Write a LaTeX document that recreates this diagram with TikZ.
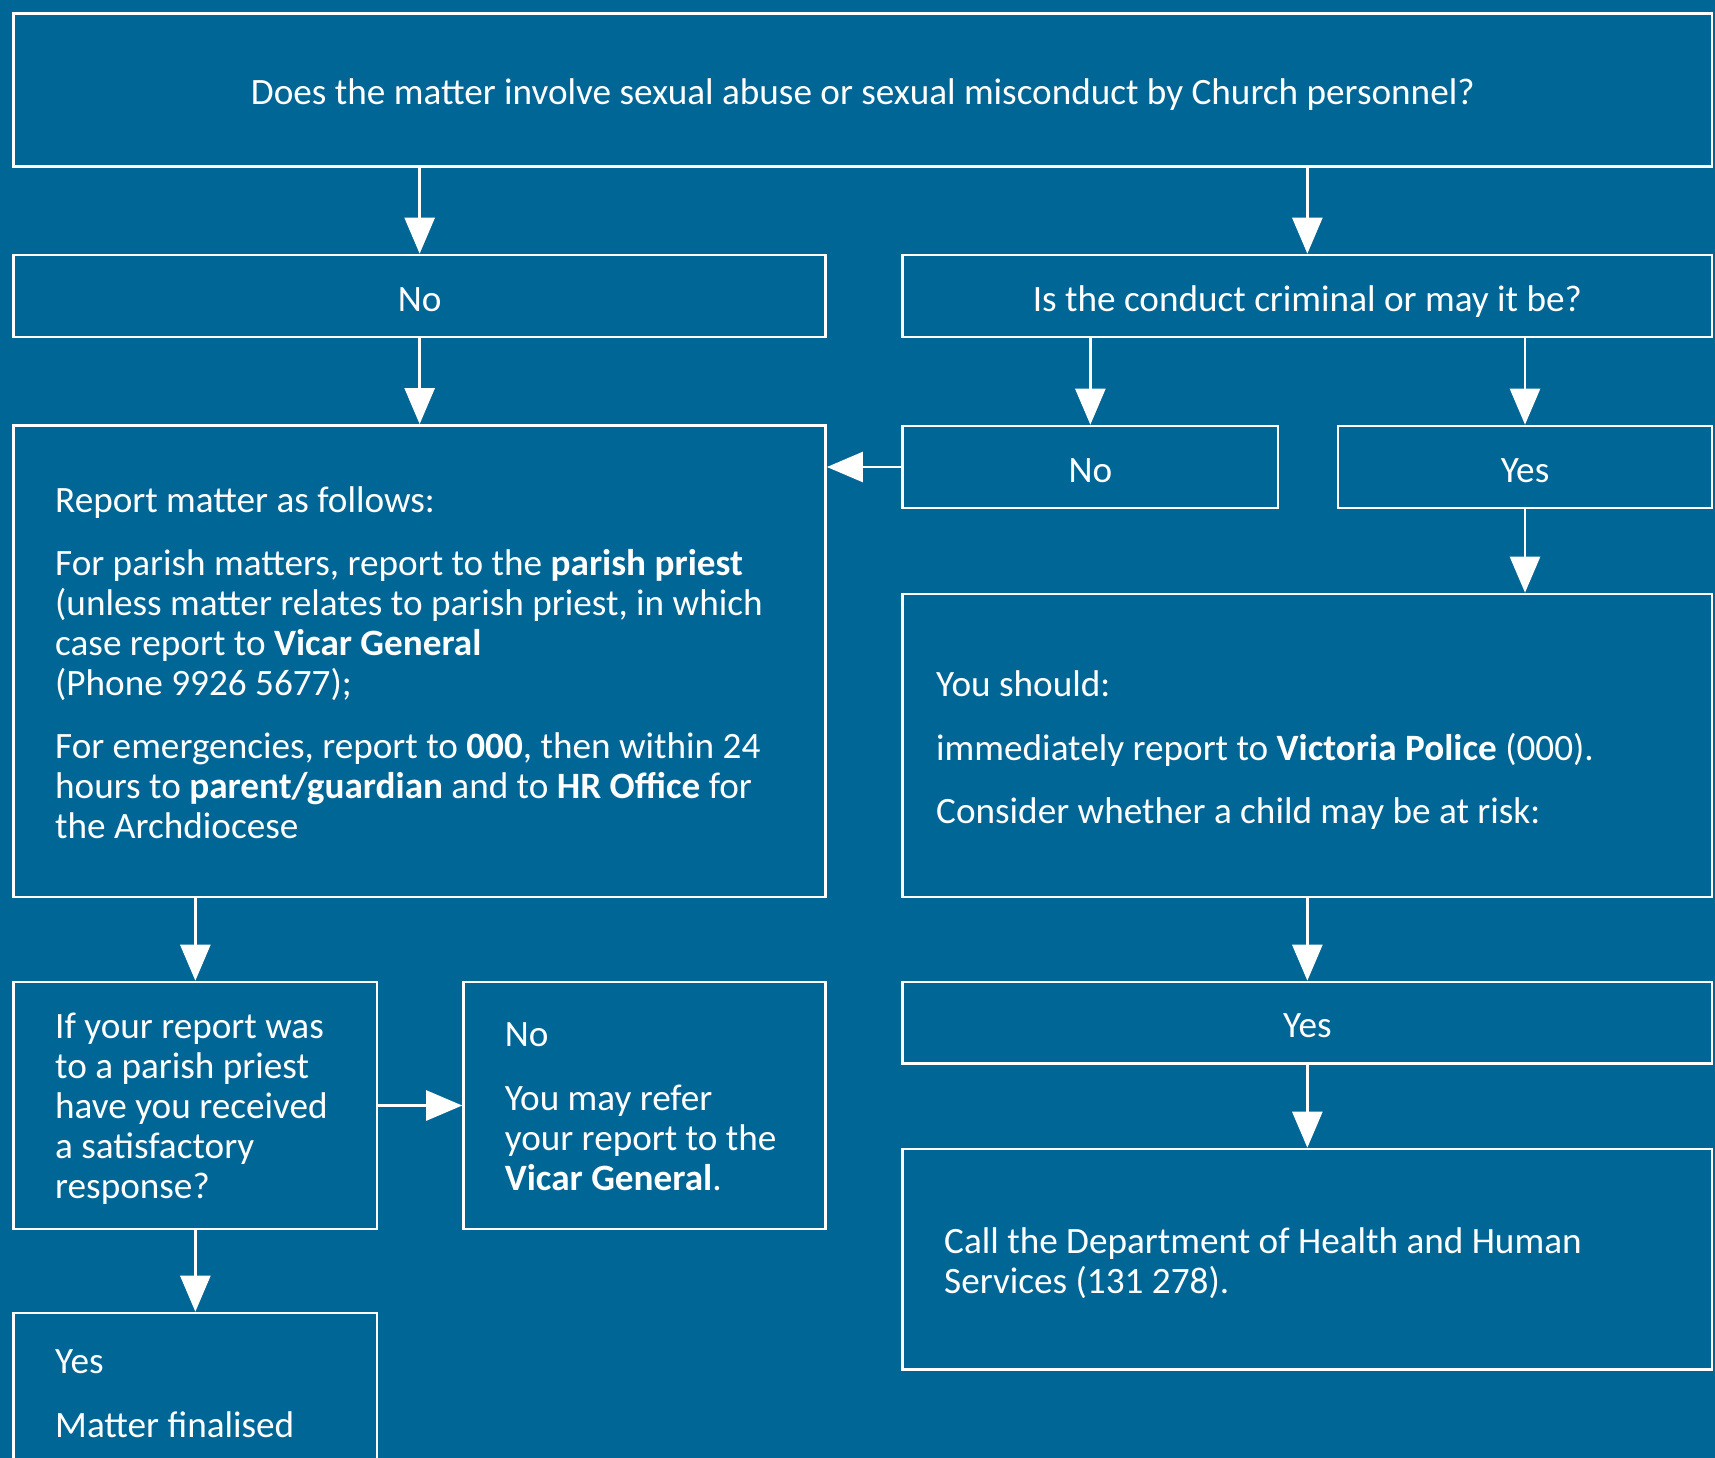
\documentclass[tikz,border=0pt]{standalone}
\usepackage{fontspec}
\setmainfont{Carlito}
\usetikzlibrary{arrows.meta}
\definecolor{bgblue}{RGB}{0,102,150}
\begin{document}
\begin{tikzpicture}[x=1pt,y=-1pt,
  every node/.style={font=\fontsize{37.2}{40}\selectfont},
  box/.style={draw=white, line width=2.6pt, rectangle, inner sep=0pt, text=white, text height=30pt, text depth=0pt},
  txt/.style={text=white, inner sep=0pt, anchor=base west, align=left},
  flow/.style={draw=white, line width=2.6pt, -{Triangle[length=36pt,width=30pt]}}]
\fill[bgblue] (0,0) rectangle (1715,1458);
\useasboundingbox (0,0) rectangle (1715,1458);
\clip (0,0) rectangle (1715,1458);

% boxes
\node[box, minimum width=1698.3pt, minimum height=153.4pt] (top) at (862.85,90) {Does the matter involve sexual abuse or sexual misconduct by Church personnel?};
\node[box, minimum width=811.9pt, minimum height=82pt] (noL) at (419.65,296) {No};
\node[box, minimum width=809.3pt, minimum height=82pt] (crim) at (1307.35,296) {Is the conduct criminal or may it be?};
\node[box, minimum width=811.9pt, minimum height=471.6pt] (rep) at (419.65,661.2) {};
\node[box, minimum width=375.3pt, minimum height=82pt] (noR) at (1090.35,467) {No};
\node[box, minimum width=374pt, minimum height=82pt] (yesR) at (1525,467) {Yes};
\node[box, minimum width=809.3pt, minimum height=303pt] (should) at (1307.35,745.5) {};
\node[box, minimum width=809.3pt, minimum height=81.3pt] (yes2) at (1307.35,1022.65) {Yes};
\node[box, minimum width=809.3pt, minimum height=220.3pt] (call) at (1307.35,1259.15) {};
\node[box, minimum width=363.3pt, minimum height=247pt] (ifb) at (195.35,1105.5) {};
\node[box, minimum width=362.1pt, minimum height=247pt] (refer) at (644.55,1105.5) {};
\node[box, minimum width=363.3pt, minimum height=187pt] (fin) at (195.35,1406.5) {};

% texts (anchored at the baseline of their last line)
\node[txt] (repT) at (55,838.6) {Report matter as follows:\\[23pt]
 For parish matters, report to the \textbf{parish priest}\\
 (unless matter relates to parish priest, in which\\
 case report to \textbf{Vicar General}\\
 (Phone 9926 5677);\\[23pt]
 For emergencies, report to \textbf{000}, then within 24\\
 hours to \textbf{parent/guardian} and to \textbf{HR Office} for\\
 the Archdiocese};
\node[txt] (shouldT) at (936,823) {You should:\\[23.5pt]
 immediately report to \textbf{Victoria Police} (000).\\[23pt]
 Consider whether a child may be at risk:};
\node[txt] (ifT) at (55,1198) {If your report was\\ to a parish priest\\ have you received\\ a satisfactory\\ response?};
\node[txt] (referT) at (504.6,1190) {No\\[24pt] You may refer\\ your report to the\\ \textbf{Vicar General}.};
\node[txt] (callT) at (944,1293) {Call the Department of Health and Human\\ Services (131 278).};
\node[txt] (finT) at (55,1437) {Yes\\[24pt] Matter finalised};

% connectors
\draw[flow] (top.south -| noL) -- (noL.north);
\draw[flow] (top.south -| crim) -- (crim.north);
\draw[flow] (noL.south) -- (rep.north);
\draw[flow] (crim.south -| noR) -- (noR.north);
\draw[flow] (crim.south -| yesR) -- (yesR.north);
\draw[flow] (noR.west) -- (rep.east |- noR.west);
\draw[flow] (yesR.south) -- (should.north -| yesR);
\draw[flow] (should.south) -- (yes2.north);
\draw[flow] (yes2.south) -- (call.north);
\draw[flow] (rep.south -| ifb) -- (ifb.north);
\draw[flow] (ifb.east) -- (refer.west);
\draw[flow] (ifb.south) -- (fin.north);
\end{tikzpicture}
\end{document}
